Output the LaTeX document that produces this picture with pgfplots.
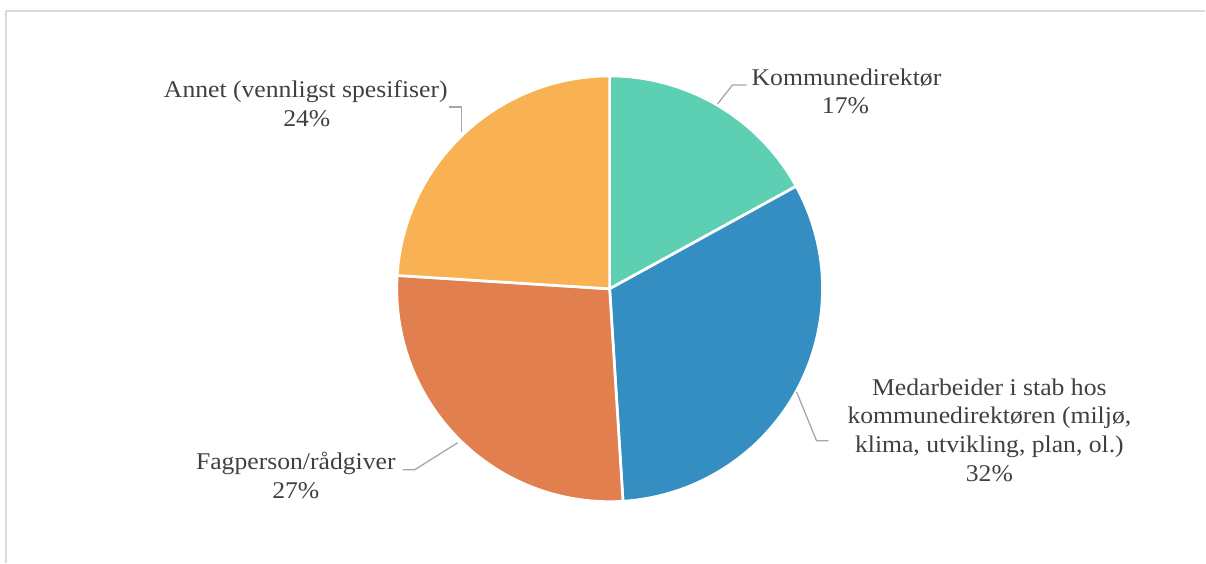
\documentclass[border=0pt]{standalone}
\usepackage{pgfplots}
\pgfplotsset{compat=1.18}
\usepackage{fontspec}
\setmainfont[FakeStretch=1.07]{Liberation Serif}
\definecolor{cKom}{HTML}{5DCFB3}
\definecolor{cMed}{HTML}{358EC1}
\definecolor{cFag}{HTML}{E1804E}
\definecolor{cAnn}{HTML}{F8B253}
\definecolor{txt}{HTML}{404040}
\definecolor{lead}{HTML}{A6A6A6}
\definecolor{frame}{HTML}{D9D9D9}
% shares in percent
\def\pA{17}% Kommunedirektør
\def\pB{32}% Medarbeider i stab
\def\pC{27}% Fagperson/rådgiver
\def\pD{24}% Annet
\begin{document}
\begin{tikzpicture}
\begin{axis}[
  width=1206bp, height=563bp, scale only axis,
  xmin=0, xmax=1206, ymin=0, ymax=563, y dir=reverse,
  hide axis, clip=false,
]
\path[draw=none] (axis cs:0,0) rectangle (axis cs:1206,563);
% frame
\draw[frame, line width=1.5bp] (axis cs:6,563) -- (axis cs:6,11) -- (axis cs:1206,11);
% slices (clockwise from top)
\filldraw[fill=cKom, draw=white, line width=2.7bp, line join=round]
  (axis cs:610,289) -- ++(90:213bp) arc[start angle=90, end angle={90-3.6*\pA}, radius=213bp] -- cycle;
\filldraw[fill=cMed, draw=white, line width=2.7bp, line join=round]
  (axis cs:610,289) -- ++({90-3.6*\pA}:213bp) arc[start angle={90-3.6*\pA}, end angle={90-3.6*(\pA+\pB)}, radius=213bp] -- cycle;
\filldraw[fill=cFag, draw=white, line width=2.7bp, line join=round]
  (axis cs:610,289) -- ++({90-3.6*(\pA+\pB)}:213bp) arc[start angle={90-3.6*(\pA+\pB)}, end angle={90-3.6*(\pA+\pB+\pC)}, radius=213bp] -- cycle;
\filldraw[fill=cAnn, draw=white, line width=2.7bp, line join=round]
  (axis cs:610,289) -- ++({90-3.6*(\pA+\pB+\pC)}:213bp) arc[start angle={90-3.6*(\pA+\pB+\pC)}, end angle={90-3.6*(\pA+\pB+\pC+\pD)}, radius=213bp] -- cycle;
% leader lines
\draw[lead, line width=1.3bp] (axis cs:718,104) -- (axis cs:733,85) -- (axis cs:747,85);
\draw[lead, line width=1.3bp] (axis cs:797,392) -- (axis cs:817,441) -- (axis cs:829,441);
\draw[lead, line width=1.3bp] (axis cs:458,443) -- (axis cs:415,470) -- (axis cs:403,470);
\draw[lead, line width=1.3bp] (axis cs:462,132) -- (axis cs:462,107) -- (axis cs:449,107);
% labels
\begin{scope}[every node/.style={text=txt, font=\fontsize{24bp}{28bp}\selectfont, anchor=base, inner sep=0pt}]
\node at (axis cs:847,86) {Kommunedirektør};
\node at (axis cs:846,114) {\pA\%};
\node at (axis cs:990,396) {Medarbeider i stab hos};
\node at (axis cs:990,424) {kommunedirektøren (miljø,};
\node at (axis cs:990,453) {klima, utvikling, plan, ol.)};
\node at (axis cs:990,482) {\pB\%};
\node at (axis cs:296,470) {Fagperson/rådgiver};
\node at (axis cs:296,499) {\pC\%};
\node at (axis cs:306,98) {Annet (vennligst spesifiser)};
\node at (axis cs:307,127) {\pD\%};
\end{scope}
\end{axis}
\end{tikzpicture}
\end{document}
